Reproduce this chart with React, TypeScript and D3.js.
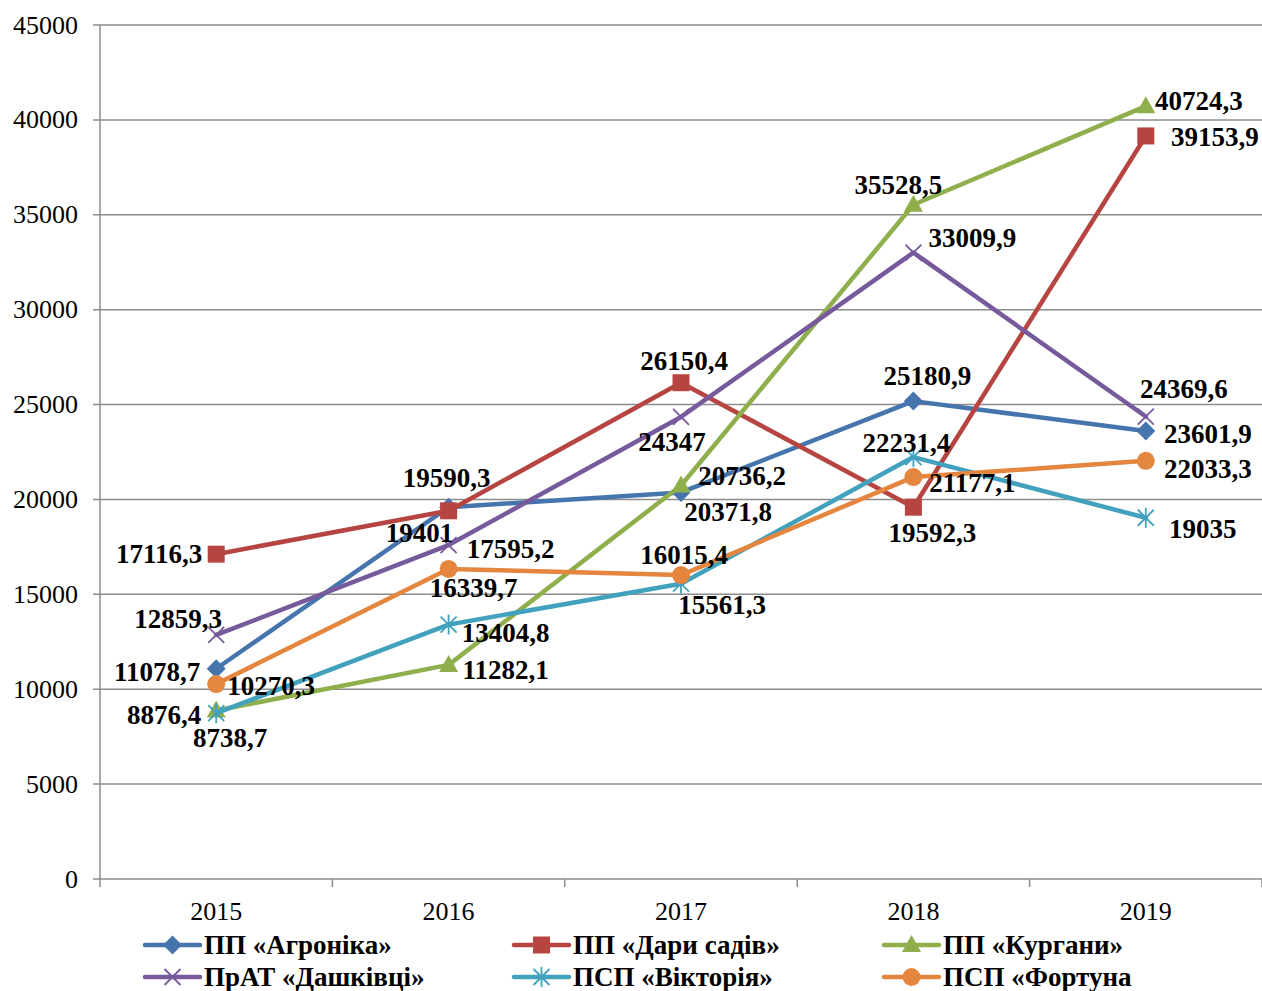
import { useEffect, useRef } from 'react';
import * as d3 from 'd3';

const YEARS = ['2015', '2016', '2017', '2018', '2019'];

const AGRONIKA = [11078.7, 19590.3, 20371.8, 25180.9, 23601.9];
const DARY_SADIV = [17116.3, 19401, 26150.4, 19592.3, 39153.9];
const KURHANY = [8876.4, 11282.1, 20736.2, 35528.5, 40724.3];
const DASHKIVTSI = [12859.3, 17595.2, 24347, 33009.9, 24369.6];
const VIKTORIIA = [8738.7, 13404.8, 15561.3, 22231.4, 19035];
const FORTUNA = [10270.3, 16339.7, 16015.4, 21177.1, 22033.3];

const Y_TICKS = [0, 5000, 10000, 15000, 20000, 25000, 30000, 35000, 40000, 45000];

type Marker = 'diamond' | 'square' | 'triangle' | 'x' | 'star' | 'circle';

interface Series {
  name: string;
  values: number[];
  color: string;
  marker: Marker;
}

const SERIES: Series[] = [
  { name: 'ПП «Агроніка»', values: AGRONIKA, color: '#4675AE', marker: 'diamond' },
  { name: 'ПП «Дари садів»', values: DARY_SADIV, color: '#B64541', marker: 'square' },
  { name: 'ПП «Кургани»', values: KURHANY, color: '#8FAF4D', marker: 'triangle' },
  { name: 'ПрАТ «Дашківці»', values: DASHKIVTSI, color: '#775A9C', marker: 'x' },
  { name: 'ПСП «Вікторія»', values: VIKTORIIA, color: '#42A2BD', marker: 'star' },
  { name: 'ПСП «Фортуна', values: FORTUNA, color: '#E4863E', marker: 'circle' },
];

// зсув підпису значення відносно точки (px), як у вихідній діаграмі
const LABEL_OFFSETS: [number, number][][] = [
  [[-59, 3], [-2, -29], [47, 20], [14, -25], [62, 3]],
  [[-57, 0], [-29, 22], [3, -22], [19, 26], [69, 1]],
  [[-52, 4], [57, 5], [61, -9], [-15, -20], [53, -5]],
  [[-38, -16], [62, 4], [-9, 25], [59, -15], [38, -28]],
  [[14, 25], [57, 8], [41, 21], [-7, -14], [57, 11]],
  [[55, 2], [25, 19], [3, -20], [59, 6], [62, 8]],
];

const FONT = '"Liberation Serif", "Times New Roman", serif';
const W = 1262;
const H = 991;

const fmt = (v: number) => String(v).replace('.', ',');

function drawMarker(g: d3.Selection<SVGGElement, unknown, null, undefined>, m: Marker, x: number, y: number, color: string) {
  if (m === 'diamond') {
    g.append('path').attr('d', `M${x},${y - 9.5}L${x + 9.5},${y}L${x},${y + 9.5}L${x - 9.5},${y}Z`).attr('fill', color);
  } else if (m === 'square') {
    g.append('rect').attr('x', x - 8.5).attr('y', y - 8.5).attr('width', 17).attr('height', 17).attr('fill', color);
  } else if (m === 'triangle') {
    g.append('path').attr('d', `M${x},${y - 10}L${x + 9.5},${y + 7}L${x - 9.5},${y + 7}Z`).attr('fill', color);
  } else if (m === 'circle') {
    g.append('circle').attr('cx', x).attr('cy', y).attr('r', 9).attr('fill', color);
  } else if (m === 'x') {
    g.append('path')
      .attr('d', `M${x - 8},${y - 8}L${x + 8},${y + 8}M${x - 8},${y + 8}L${x + 8},${y - 8}`)
      .attr('stroke', color).attr('stroke-width', 1.8).attr('fill', 'none');
  } else {
    g.append('path')
      .attr('d', `M${x - 8},${y - 8}L${x + 8},${y + 8}M${x - 8},${y + 8}L${x + 8},${y - 8}M${x},${y - 10}L${x},${y + 10}`)
      .attr('stroke', color).attr('stroke-width', 1.8).attr('fill', 'none');
  }
}

export default function App() {
  const svgRef = useRef<SVGSVGElement>(null);

  useEffect(() => {
    document.body.style.margin = '0';
    if (!svgRef.current) return;
    const svg = d3.select(svgRef.current);
    svg.selectAll('*').remove();

    const left = 100;
    const right = 1262;
    const top = 25;
    const bottom = 879;

    const x = d3.scaleBand<string>().domain(YEARS).range([left, right]).padding(0);
    const y = d3.scaleLinear().domain([0, 45000]).range([bottom, top]);
    const cx = (yr: string) => (x(yr) ?? 0) + x.bandwidth() / 2;

    const root = svg.append('g');

    // сітка
    root.selectAll('line.grid')
      .data(Y_TICKS)
      .join('line')
      .attr('class', 'grid')
      .attr('x1', left - 7)
      .attr('x2', right)
      .attr('y1', (d) => y(d))
      .attr('y2', (d) => y(d))
      .attr('stroke', '#8C8C8C')
      .attr('stroke-width', 1.5);

    root.append('line')
      .attr('x1', left).attr('x2', left).attr('y1', top).attr('y2', bottom)
      .attr('stroke', '#8C8C8C').attr('stroke-width', 1.5);

    root.selectAll('text.ytick')
      .data(Y_TICKS)
      .join('text')
      .attr('class', 'ytick')
      .attr('x', 78)
      .attr('y', (d) => y(d))
      .attr('text-anchor', 'end')
      .attr('dominant-baseline', 'central')
      .style('font-family', FONT)
      .style('font-size', '26px')
      .attr('fill', '#000')
      .text((d) => String(d));

    // вісь X
    const xTicks = YEARS.map((yr) => x(yr) ?? 0).concat([right]);
    root.selectAll('line.xtick')
      .data(xTicks)
      .join('line')
      .attr('class', 'xtick')
      .attr('x1', (d) => d).attr('x2', (d) => d)
      .attr('y1', bottom).attr('y2', bottom + 8)
      .attr('stroke', '#8C8C8C').attr('stroke-width', 1.5);

    root.selectAll('text.xlabel')
      .data(YEARS)
      .join('text')
      .attr('class', 'xlabel')
      .attr('x', (d) => cx(d))
      .attr('y', 911)
      .attr('text-anchor', 'middle')
      .attr('dominant-baseline', 'central')
      .style('font-family', FONT)
      .style('font-size', '26px')
      .text((d) => d);

    // лінії та маркери
    const line = d3.line<number>().x((_, i) => cx(YEARS[i])).y((d) => y(d));
    SERIES.forEach((s) => {
      const g = root.append('g');
      g.append('path')
        .attr('d', line(s.values) ?? '')
        .attr('fill', 'none')
        .attr('stroke', s.color)
        .attr('stroke-width', 4.5)
        .attr('stroke-linejoin', 'round')
        .attr('stroke-linecap', 'round');
      s.values.forEach((v, i) => drawMarker(g, s.marker, cx(YEARS[i]), y(v), s.color));
    });

    // підписи значень
    SERIES.forEach((s, si) => {
      s.values.forEach((v, i) => {
        const [dx, dy] = LABEL_OFFSETS[si][i];
        root.append('text')
          .attr('x', cx(YEARS[i]) + dx)
          .attr('y', y(v) + dy)
          .attr('text-anchor', 'middle')
          .attr('dominant-baseline', 'central')
          .style('font-family', FONT)
          .style('font-size', '27px')
          .style('font-weight', 'bold')
          .text(fmt(v));
      });
    });

    // легенда
    const legendCols = [145, 514, 884];
    const legendRows = [945, 977];
    SERIES.forEach((s, i) => {
      const lx = legendCols[i % 3];
      const ly = legendRows[Math.floor(i / 3)];
      const g = root.append('g');
      g.append('line')
        .attr('x1', lx).attr('x2', lx + 55).attr('y1', ly).attr('y2', ly)
        .attr('stroke', s.color).attr('stroke-width', 4.5).attr('stroke-linecap', 'round');
      drawMarker(g, s.marker, lx + 27.5, ly, s.color);
      g.append('text')
        .attr('x', lx + 59)
        .attr('y', ly)
        .attr('dominant-baseline', 'central')
        .style('font-family', FONT)
        .style('font-size', '27px')
        .style('font-weight', 'bold')
        .text(s.name);
    });
  }, []);

  return <svg ref={svgRef} width={W} height={H} style={{ display: 'block', background: '#fff' }} />;
}
